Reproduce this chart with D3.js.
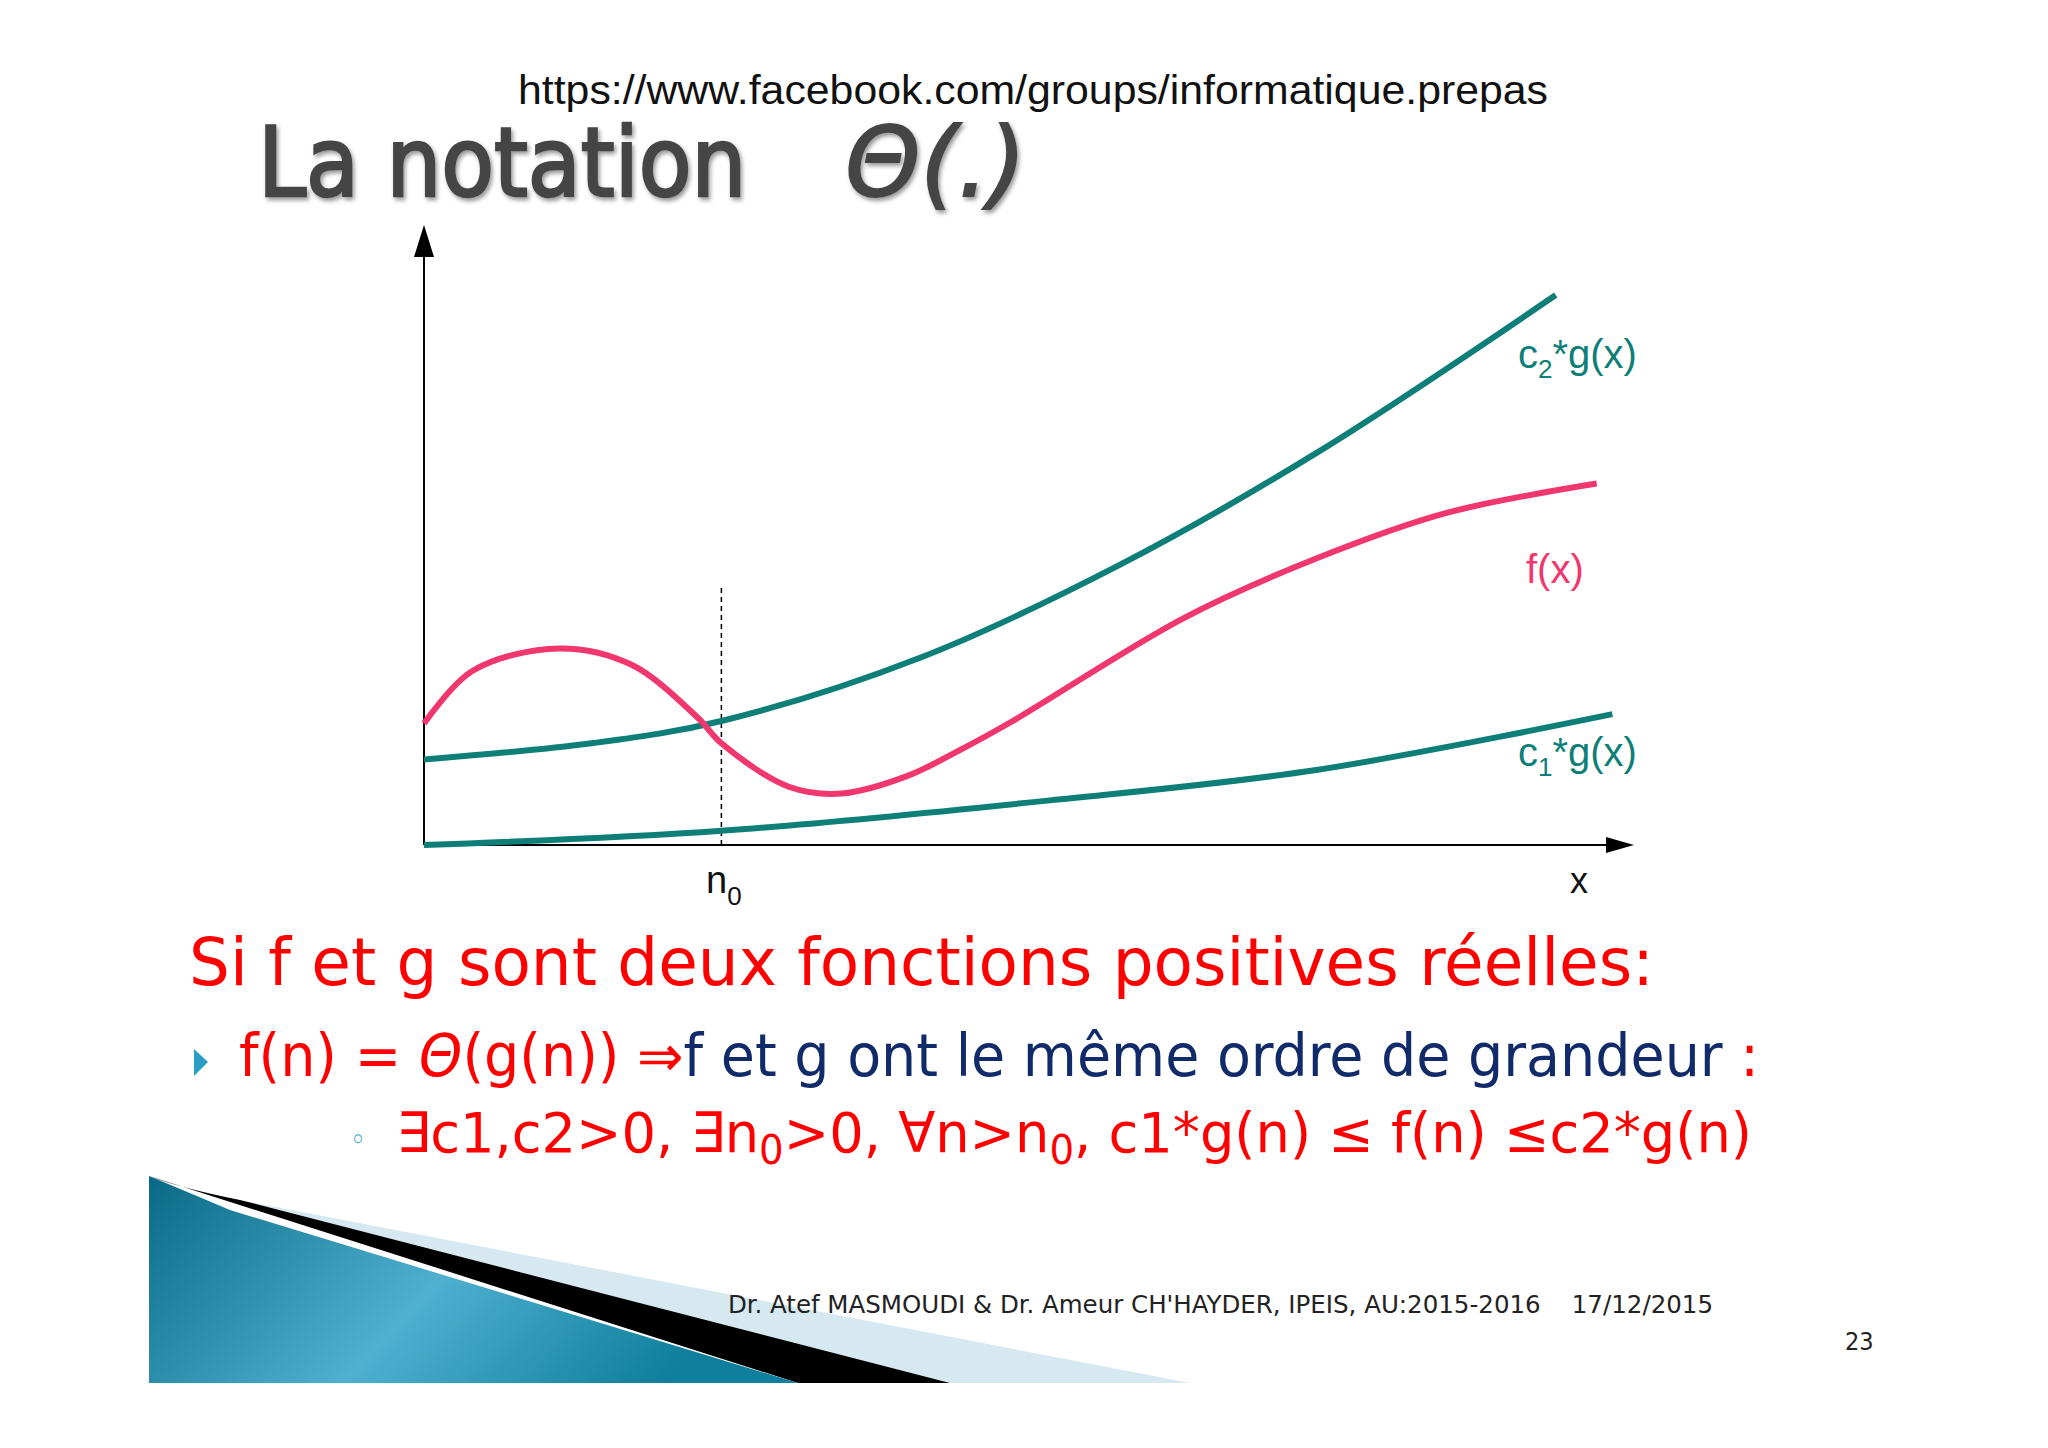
<!DOCTYPE html>
<html><head><meta charset="utf-8">
<script src="https://cdn.jsdelivr.net/npm/d3@7"></script>
<style>body{margin:0;background:#fff}</style>
</head><body>
<svg id="chart" width="2048" height="1448"></svg>
<script>
// curve samples, x and y in abstract units 0..10
const c2X = [0, 1.39, 2.47, 4.12, 5.77, 7.41, 9.40];
const c2Y = [1.38, 1.64, 2.0, 3.02, 4.51, 6.32, 8.87];
const c1X = [0, 2.47, 5.2, 7.41, 9.87];
const c1Y = [0, 0.23, 0.72, 1.21, 2.11];
const fX = [0, 0.405, 1.12, 1.72, 2.27, 2.47, 3.03, 3.47, 4.01, 4.45, 4.89, 6.31, 7.41, 8.5, 9.74];
const fY = [1.96, 2.81, 3.17, 2.91, 2.06, 1.64, 0.94, 0.83, 1.11, 1.53, 2.0, 3.66, 4.62, 5.36, 5.83];
const n0 = 2.47, n0Top = 4.19;

const teal = "#0e7f78", pink = "#f0386e";
const svg = d3.select("#chart");
const x = d3.scaleLinear().domain([0, 10]).range([424, 1628]);
const y = d3.scaleLinear().domain([0, 10]).range([845, 225]);

svg.append("defs").html(`
  <linearGradient id="blue" x1="0" y1="0" x2="1" y2="0.3">
    <stop offset="0" stop-color="#0a6a86"/><stop offset="0.55" stop-color="#4fb0d0"/><stop offset="1" stop-color="#0e7f9c"/>
  </linearGradient>
  <filter id="sh"><feDropShadow dx="2" dy="3" stdDeviation="2" flood-color="#999"/></filter>`);

// header
svg.append("text").attr("x", 1033).attr("y", 104).attr("text-anchor", "middle")
  .attr("font-family", "Liberation Sans, Arial").attr("font-size", 41).attr("fill", "#111")
  .attr("textLength", 1030).attr("lengthAdjust", "spacingAndGlyphs")
  .text("https://www.facebook.com/groups/informatique.prepas");
svg.append("text").attr("x", 258).attr("y", 196).attr("font-family", "DejaVu Sans Condensed, DejaVu Sans")
  .attr("font-size", 96).attr("fill", "#454545").attr("stroke", "#454545").attr("stroke-width", 2.5)
  .attr("filter", "url(#sh)")
  .text("La notation ");
svg.append("text").attr("x", 845).attr("y", 196).attr("font-family", "DejaVu Sans")
  .attr("font-style", "italic").attr("font-size", 96).attr("fill", "#454545").attr("stroke", "#454545")
  .attr("stroke-width", 2).attr("filter", "url(#sh)").text("Θ(.)");

// axes
svg.append("line").attr("x1", x(0)).attr("y1", y(0)).attr("x2", x(0)).attr("y2", 245).attr("stroke", "#000").attr("stroke-width", 2);
svg.append("path").attr("d", `M${x(0)},225 L${x(0) - 10},257 L${x(0) + 10},257Z`);
svg.append("line").attr("x1", x(0)).attr("y1", y(0)).attr("x2", 1612).attr("y2", y(0)).attr("stroke", "#000").attr("stroke-width", 2);
svg.append("path").attr("d", `M1634,${y(0)} L1606,${y(0) - 8} L1606,${y(0) + 8}Z`);
svg.append("line").attr("x1", x(n0)).attr("x2", x(n0)).attr("y1", y(0)).attr("y2", y(n0Top))
  .attr("stroke", "#000").attr("stroke-width", 1.5).attr("stroke-dasharray", "5,4");

const line = d3.line().x(d => x(d[0])).y(d => y(d[1])).curve(d3.curveCatmullRom);
const draw = (xs, ys, col) => svg.append("path").attr("d", line(xs.map((v, i) => [v, ys[i]])))
  .attr("fill", "none").attr("stroke", col).attr("stroke-width", 6);
draw(c1X, c1Y, teal);
draw(c2X, c2Y, teal);
draw(fX, fY, pink);

const lab = (tx, ty, html, col, size) => svg.append("text").attr("x", tx).attr("y", ty)
  .attr("font-family", "Liberation Sans, Arial").attr("font-size", size).attr("fill", col).html(html);
lab(1518, 368, 'c<tspan font-size="26" dy="10">2</tspan><tspan dy="-10">*g(x)</tspan>', teal, 40);
lab(1526, 583, 'f(x)', pink, 40);
lab(1518, 766, 'c<tspan font-size="26" dy="10">1</tspan><tspan dy="-10">*g(x)</tspan>', teal, 40);
lab(706, 893, 'n<tspan font-size="26" dy="12">0</tspan>', "#111", 38);
lab(1570, 893, 'x', "#111", 36);

// body text
const body = "DejaVu Sans Condensed, DejaVu Sans";
svg.append("text").attr("x", 189).attr("y", 985).attr("font-family", body).attr("font-size", 66)
  .attr("fill", "#ff0000").attr("textLength", 1465).attr("lengthAdjust", "spacingAndGlyphs")
  .text("Si f et g sont deux fonctions positives réelles:");
svg.append("path").attr("d", "M194,1049 L208,1062 L194,1076Z").attr("fill", "#2a9ec4");
svg.append("text").attr("x", 239).attr("y", 1076).attr("font-family", body).attr("font-size", 58)
  .attr("fill", "#ff0000").attr("textLength", 1520).attr("lengthAdjust", "spacingAndGlyphs")
  .html('f(n) = <tspan font-style="italic">Θ</tspan>(g(n)) ⇒<tspan fill="#102a6a">f et g ont le même ordre de grandeur </tspan>:');
svg.append("text").attr("x", 350).attr("y", 1150).attr("font-family", body).attr("font-size", 30).attr("fill", "#2a9ec4").text("◦");
svg.append("text").attr("x", 396).attr("y", 1152).attr("font-family", body).attr("font-size", 56)
  .attr("fill", "#ff0000").attr("textLength", 1356).attr("lengthAdjust", "spacingAndGlyphs")
  .html('∃c1,c2&gt;0, ∃n<tspan font-size="40" dy="12">0</tspan><tspan dy="-12">&gt;0, ∀n&gt;n</tspan><tspan font-size="40" dy="12">0</tspan><tspan dy="-12">, c1*g(n) ≤ f(n) ≤c2*g(n)</tspan>');

// bottom decoration
svg.append("path").attr("d", "M240,1200 L1190,1383 L950,1383Z").attr("fill", "#d6e9f0");
svg.append("path").attr("d", "M149,1176 Q180,1188 240,1200 L950,1383 L798,1383Z").attr("fill", "#000");
svg.append("path").attr("d", "M149,1176 Q190,1193 230,1210 L798,1383 L149,1383Z").attr("fill", "url(#blue)");

svg.append("text").attr("x", 728).attr("y", 1313).attr("font-family", body).attr("font-size", 25).attr("fill", "#222")
  .attr("textLength", 985).attr("lengthAdjust", "spacingAndGlyphs")
  .text("Dr. Atef MASMOUDI & Dr. Ameur CH'HAYDER, IPEIS, AU:2015-2016    17/12/2015").attr("xml:space", "preserve");
svg.append("text").attr("x", 1845).attr("y", 1350).attr("font-family", body).attr("font-size", 25).attr("fill", "#222").text("23");
</script>
</body></html>
